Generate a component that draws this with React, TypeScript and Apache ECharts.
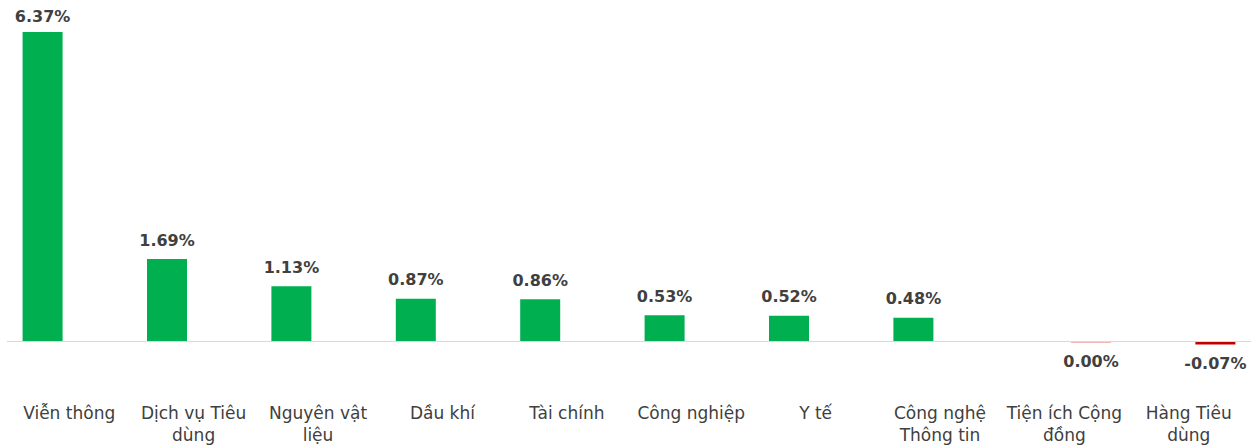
import React, { useEffect, useRef } from "react";
import * as echarts from "echarts";

const categories = [
  "Viễn thông",
  "Dịch vụ Tiêu\ndùng",
  "Nguyên vật\nliệu",
  "Dầu khí",
  "Tài chính",
  "Công nghiệp",
  "Y tế",
  "Công nghệ\nThông tin",
  "Tiện ích Cộng\nđồng",
  "Hàng Tiêu\ndùng",
];
const values = [6.37, 1.69, 1.13, 0.87, 0.86, 0.53, 0.52, 0.48, -0.004, -0.07];

const GREEN = "#00B050";
const RED = "#C00000";
const PALE_RED = "#F2B8B8";
const LABEL = "#404040";

export default function App() {
  const ref = useRef<HTMLDivElement>(null);
  useEffect(() => {
    document.body.style.margin = "0";
    if (!ref.current) return;
    const chart = echarts.init(ref.current, undefined, { renderer: "svg" });
    const fmt = (v: number) => (Math.abs(v) < 0.005 ? "0.00%" : v.toFixed(2) + "%");
    const posData = values.map((v, i) =>
      v > 0 ? (i === 0 ? { value: v, label: { distance: 7 } } : v) : "-"
    );
    const negData = values.map((v) =>
      v <= 0
        ? {
            value: v,
            itemStyle: { color: Math.abs(v) < 0.005 ? PALE_RED : RED },
          }
        : "-"
    );
    chart.setOption({
      animation: false,
      grid: { left: 7, right: 0, top: 1.4, bottom: 58.5 },
      xAxis: {
        type: "category",
        data: categories,
        axisLine: { show: false, onZero: false },
        axisTick: { show: false },
        axisLabel: {
          interval: 0,
          color: "#404040",
          fontFamily: "DejaVu Sans",
          fontSize: 17,
          lineHeight: 22,
          margin: 12,
        },
      },
      yAxis: {
        type: "value",
        min: -1,
        max: 7,
        show: false,
        splitLine: { show: false },
      },
      series: [
        {
          type: "bar",
          data: posData,
          barWidth: 40,
          barGap: "33%",
          itemStyle: { color: GREEN },
          label: {
            show: true,
            position: "top",
            distance: 11,
            color: LABEL,
            fontFamily: "DejaVu Sans",
            fontWeight: "bold",
            fontSize: 16,
            formatter: (p: any) => fmt(p.value),
          },
          markLine: {
            silent: true,
            symbol: "none",
            label: { show: false },
            lineStyle: { color: "#D9D9D9", width: 1, type: "solid" },
            data: [{ yAxis: 0 }],
          },
        },
        {
          type: "bar",
          data: negData,
          barWidth: 40,
          barGap: "33%",
          barMinHeight: 2,
          label: {
            show: true,
            position: "bottom",
            distance: 11,
            color: LABEL,
            fontFamily: "DejaVu Sans",
            fontWeight: "bold",
            fontSize: 16,
            formatter: (p: any) => fmt(p.value),
          },
        },
      ],
    });
    return () => chart.dispose();
  }, []);
  return <div ref={ref} style={{ width: 1251, height: 448 }} />;
}
